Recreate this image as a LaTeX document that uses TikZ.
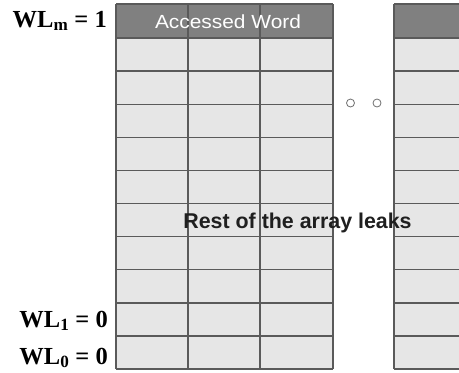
\documentclass[tikz,border=0pt]{standalone}
\usepackage{fontspec}
\setmainfont{Liberation Serif}
\newfontfamily\arialfont{Liberation Sans}
\definecolor{cellfill}{HTML}{E6E6E6}
\definecolor{headfill}{HTML}{808080}
\definecolor{gridline}{HTML}{5A5A5A}
\definecolor{dotline}{HTML}{6E6E6E}
\begin{document}
\begin{tikzpicture}[x=1pt,y=-1pt,
  cellgrid/.style={draw=gridline,line width=1.4pt},
  wllabel/.style={anchor=base east,inner sep=0pt,font=\fontsize{24.5}{24.5}\selectfont\bfseries},
  dotmark/.style={draw=dotline,fill=white,line width=0.8pt}]
\useasboundingbox (0,0) rectangle (459,373);
% blocks
\fill[cellfill] (116,38) rectangle (333,369);
\fill[headfill] (116,4) rectangle (333,38);
\fill[cellfill] (394,38) rectangle (462,369);
\fill[headfill] (394,4) rectangle (462,38);
\foreach \k in {0,...,10} {
  \draw[cellgrid] (116,{38+33.1*\k}) -- (333,{38+33.1*\k});
  \draw[cellgrid] (394,{38+33.1*\k}) -- (462,{38+33.1*\k});
}
\draw[cellgrid] (116,4) -- (333,4);
\draw[cellgrid] (394,4) -- (462,4);
\foreach \xx in {116,188,260,333} \draw[cellgrid] (\xx,4) -- (\xx,369);
\draw[cellgrid] (394,4) -- (394,369);
% header text
\node[text=white,inner sep=0pt,anchor=base,font=\arialfont\fontsize{19}{19}\selectfont] (acc) at (228,28) {\scalebox{1.1}[1]{Accessed Word}};
% dots
\draw[dotmark] (350.5,103) circle (4);
\draw[dotmark] (377,103) circle (4);
% center text
\node[text=black!88,inner sep=0pt,anchor=base,font=\arialfont\bfseries\fontsize{21.4}{21.4}\selectfont] (rest) at (297.5,228) {Rest of the array leaks};
% labels
\node[wllabel] (wlm) at (107,27) {WL\textsubscript{m} = 1};
\node[wllabel] (wl1) at (108,327) {WL\textsubscript{1} = 0};
\node[wllabel] (wl0) at (108,364) {WL\textsubscript{0} = 0};
\end{tikzpicture}
\end{document}
